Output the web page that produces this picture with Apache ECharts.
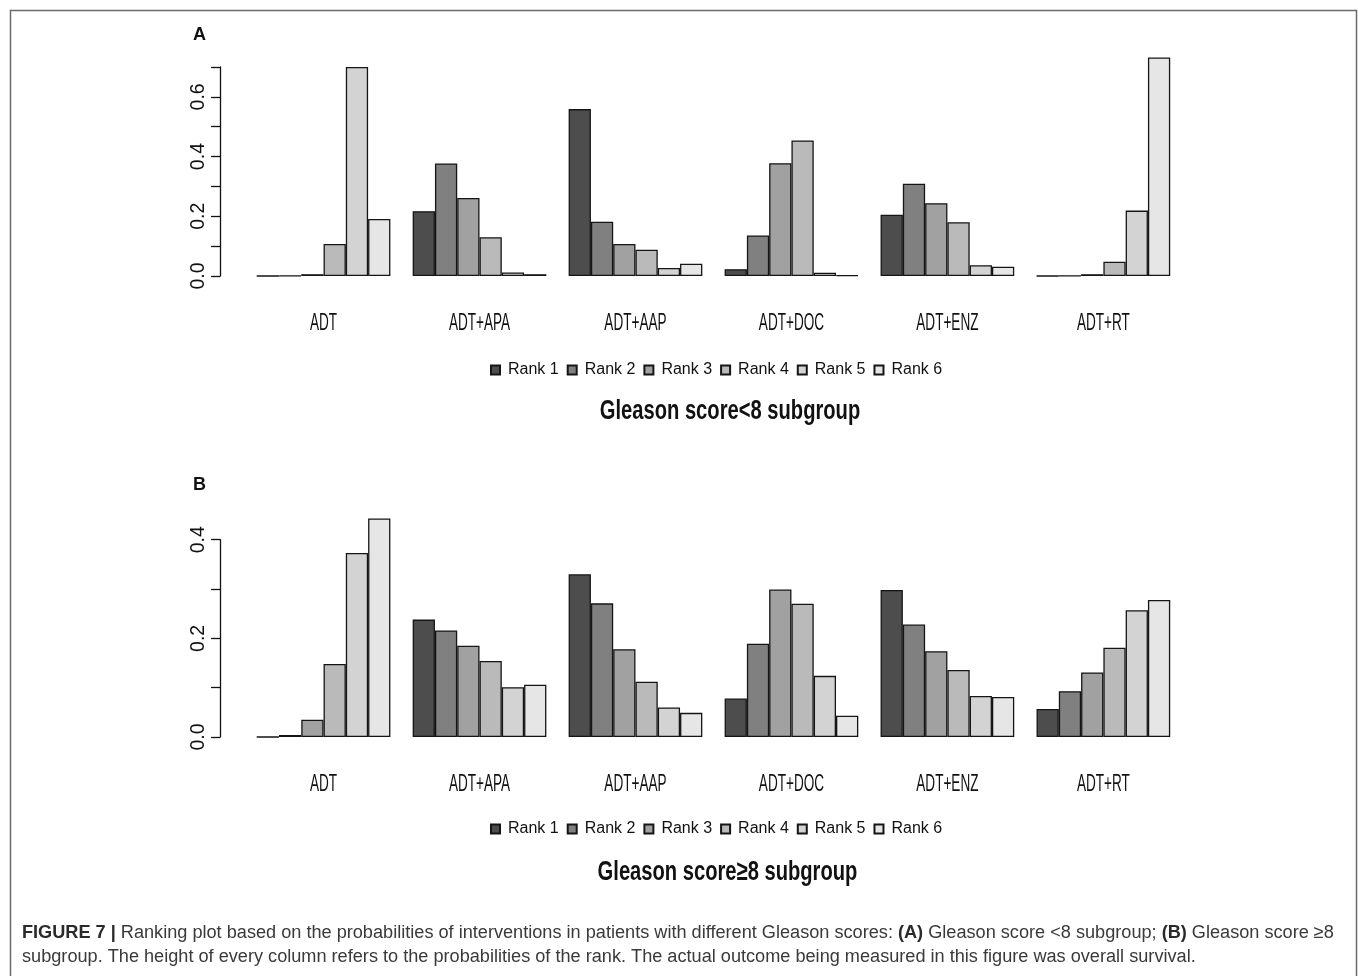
<!DOCTYPE html>
<html>
<head>
<meta charset="utf-8">
<script src="https://cdn.jsdelivr.net/npm/echarts@6/dist/echarts.min.js"></script>
<style>
html,body{margin:0;padding:0;background:#fff;}
#chart{width:1358px;height:976px;}
</style>
</head>
<body>
<div id="chart"></div>
<script>
// ---- data ----
const categories = ['ADT', 'ADT+APA', 'ADT+AAP', 'ADT+DOC', 'ADT+ENZ', 'ADT+RT'];
const rankNames = ['Rank 1', 'Rank 2', 'Rank 3', 'Rank 4', 'Rank 5', 'Rank 6'];
const rankColors = ['#4d4d4d', '#808080', '#a1a1a1', '#bababa', '#d3d3d3', '#e6e6e6'];

// Panel A: Gleason score < 8 (one array per rank, one value per category)
const rank1A = [0.000, 0.217, 0.559, 0.023, 0.205, 0.000];
const rank2A = [0.001, 0.377, 0.182, 0.136, 0.309, 0.001];
const rank3A = [0.006, 0.261, 0.107, 0.378, 0.244, 0.006];
const rank4A = [0.107, 0.130, 0.088, 0.454, 0.180, 0.048];
const rank5A = [0.700, 0.012, 0.027, 0.011, 0.036, 0.219];
const rank6A = [0.191, 0.006, 0.041, 0.002, 0.031, 0.732];

// Panel B: Gleason score >= 8
const rank1B = [0.000, 0.238, 0.330, 0.078, 0.298, 0.057];
const rank2B = [0.004, 0.216, 0.271, 0.189, 0.228, 0.093];
const rank3B = [0.035, 0.185, 0.178, 0.299, 0.174, 0.131];
const rank4B = [0.148, 0.154, 0.112, 0.270, 0.136, 0.181];
const rank5B = [0.373, 0.101, 0.060, 0.124, 0.083, 0.257];
const rank6B = [0.443, 0.106, 0.049, 0.043, 0.081, 0.278];

const yTicksA = { min: 0, max: 0.7, interval: 0.1 };
const yTicksB = { min: 0, max: 0.4, interval: 0.1 };

const titleA = 'Gleason score<8 subgroup';
const titleB = 'Gleason score≥8 subgroup';
const captionLine1 = ' Ranking plot based on the probabilities of interventions in patients with different Gleason scores: ';
const captionLine2 = 'subgroup. The height of every column refers to the probabilities of the rank. The actual outcome being measured in this figure was overall survival.';

// ---- chart ----
const SANS = "'Liberation Sans', Arial, Helvetica, sans-serif";

const seriesA = [rank1A, rank2A, rank3A, rank4A, rank5A, rank6A];
const seriesB = [rank1B, rank2B, rank3B, rank4B, rank5B, rank6B];

function makeSeries(arrs, idx) {
  return arrs.map((d, i) => ({
    name: rankNames[i],
    type: 'bar',
    xAxisIndex: idx,
    yAxisIndex: idx,
    data: d,
    barGap: '0%',
    barCategoryGap: (100 / 7) + '%',
    clip: false,
    itemStyle: { color: rankColors[i], borderColor: '#151515', borderWidth: 1.3 },
    emphasis: { disabled: true },
    silent: true
  }));
}

function yAxis(idx, t) {
  return {
    type: 'value', gridIndex: idx, min: t.min, max: t.max, interval: t.interval,
    offset: 25.5,
    axisLine: { show: true, lineStyle: { color: '#111', width: 1.3 } },
    axisTick: { show: true, length: 9, lineStyle: { color: '#111', width: 1.3 } },
    splitLine: { show: false },
    axisLabel: {
      rotate: 90, margin: 11, fontSize: 19.5, fontFamily: SANS, color: '#111',
      formatter: v => (Math.round(v * 10) % 2 === 0 ? v.toFixed(1) : '')
    }
  };
}

function xAxis(idx) {
  return {
    type: 'category', gridIndex: idx, data: categories,
    axisLine: { show: false }, axisTick: { show: false },
    axisLabel: { show: false }
  };
}

function legend(top) {
  return {
    data: rankNames, left: 490, top: top, orient: 'horizontal', padding: 0,
    itemWidth: 9, itemHeight: 9, itemGap: 8, icon: 'rect',
    selectedMode: false,
    textStyle: { fontSize: 16, fontFamily: SANS, color: '#111', padding: [0, 0, 0, 3] }
  };
}

const chart = echarts.init(document.getElementById('chart'), null, { renderer: 'canvas' });
chart.setOption({
  animation: false,
  backgroundColor: '#fff',
  grid: [
    { left: 245.56, width: 935.8, top: 67, height: 209 },
    { left: 245.56, width: 935.8, top: 539.7, height: 197.3 }
  ],
  xAxis: [xAxis(0), xAxis(1)],
  yAxis: [yAxis(0, yTicksA), yAxis(1, yTicksB)],
  legend: [legend(362), legend(821)],
  title: [
    { text: 'A', left: 193, top: 26, padding: 0, textStyle: { fontSize: 18, fontWeight: 'bold', fontFamily: SANS, color: '#111' } },
    { text: 'B', left: 193, top: 476, padding: 0, textStyle: { fontSize: 18, fontWeight: 'bold', fontFamily: SANS, color: '#111' } }
  ],
  series: [...makeSeries(seriesA, 0), ...makeSeries(seriesB, 1)]
});

// Narrow (horizontally condensed) texts: category labels placed with the library's own axis scale
const graphics = [
  { type: 'rect', left: 8, top: 8, silent: true,
    shape: { width: 1346, height: 1000 },
    style: { fill: null, stroke: '#6a6a6a', lineWidth: 1.5 } }
];
[0, 1].forEach(idx => {
  const base = chart.convertToPixel({ yAxisIndex: idx }, 0);
  categories.forEach(cat => {
    const cx = chart.convertToPixel({ xAxisIndex: idx }, cat);
    graphics.push({
      type: 'text', x: cx, y: base + 47.5, scaleX: 0.59, silent: true,
      style: { text: cat, fontSize: 23, fontFamily: SANS, fill: '#111', align: 'center', verticalAlign: 'middle' }
    });
  });
});
graphics.push(
  { type: 'text', x: 730, y: 411, scaleX: 0.72, silent: true,
    style: { text: titleA, fontSize: 28, fontWeight: 'bold', fontFamily: SANS, fill: '#111', align: 'center', verticalAlign: 'middle' } },
  { type: 'text', x: 727.5, y: 872, scaleX: 0.72, silent: true,
    style: { text: titleB, fontSize: 28, fontWeight: 'bold', fontFamily: SANS, fill: '#111', align: 'center', verticalAlign: 'middle' } },
  { type: 'text', left: 22, top: 924, silent: true,
    style: {
      text: '{b|FIGURE 7 |}{n|' + captionLine1 + '}{b|(A)}{n| Gleason score <8 subgroup; }{b|(B)}{n| Gleason score ≥8}',
      rich: {
        b: { fontSize: 18.15, fontWeight: 'bold', fontFamily: SANS, fill: '#2a2a2a' },
        n: { fontSize: 18.15, fontFamily: SANS, fill: '#3a3a3a' }
      }
    } },
  { type: 'text', left: 22, top: 948, silent: true,
    style: { text: captionLine2, fontSize: 18.15, fontFamily: SANS, fill: '#3a3a3a' } }
);
chart.setOption({ graphic: graphics });
</script>
</body>
</html>
